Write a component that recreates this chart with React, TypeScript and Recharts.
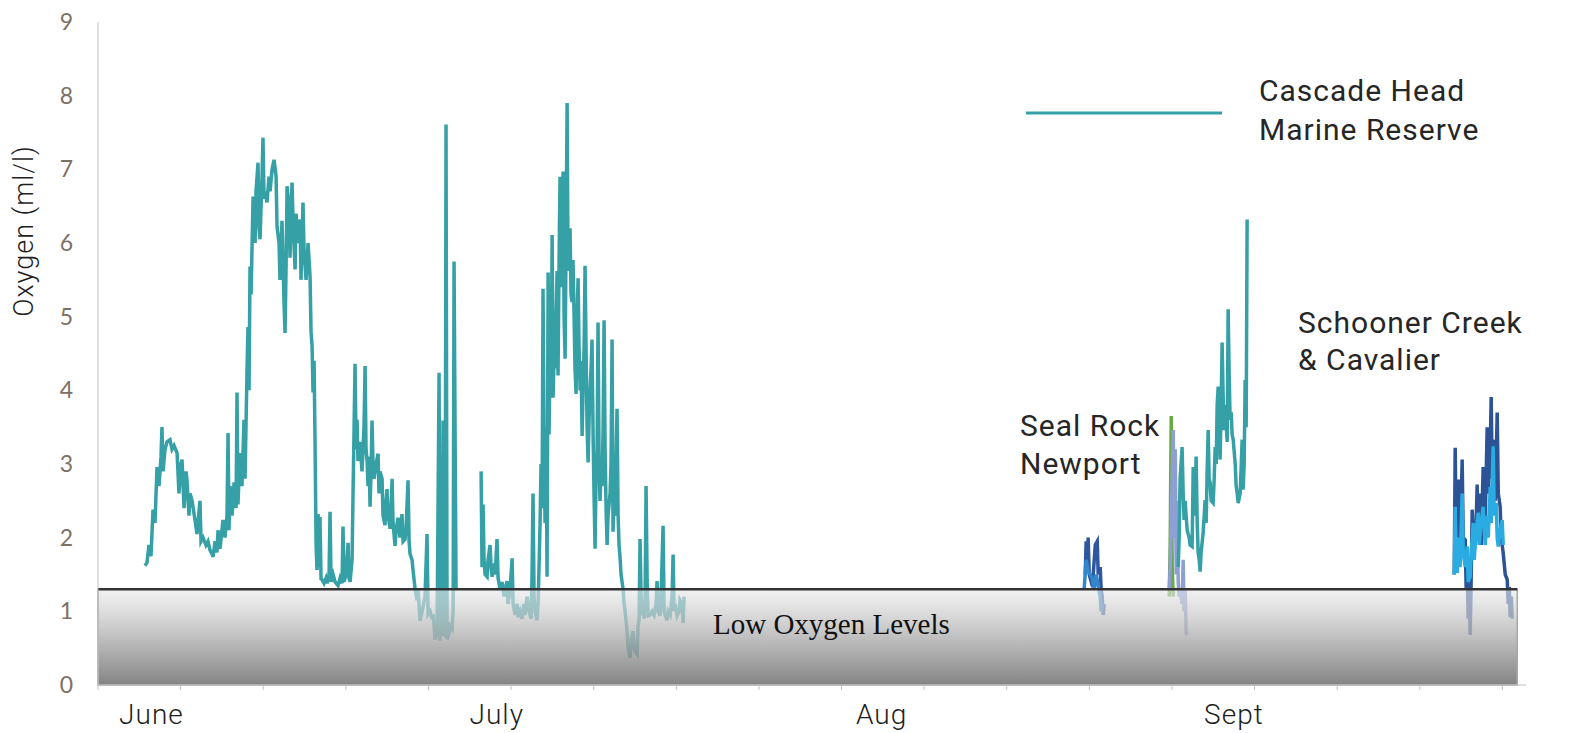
import React from 'react';
import { LineChart, Line, XAxis, YAxis, ReferenceArea, ReferenceLine } from 'recharts';

// x values are days since June 1, y values are dissolved oxygen in ml/l
const weekTicks = [0, 7, 14, 21, 28, 35, 42, 49, 56, 63, 70, 77, 84, 91, 98, 105, 112, 119];
const o2Ticks = [0, 1, 2, 3, 4, 5, 6, 7, 8, 9];
const monthNames = ['June', 'July', 'Aug', 'Sept'];
const monthDays = [4.53, 33.79, 66.4, 96.25];
const lowO2Limit = 1.3;
const bandEndDay = 120.26;

// Cascade Head Marine Reserve
const juneDay = [3.98, 4.15, 4.32, 4.49, 4.66, 4.83, 5.0, 5.17, 5.34, 5.42, 5.51, 5.68, 5.85, 6.1, 6.27, 6.44, 6.7, 6.86, 7.03, 7.12, 7.29, 7.46, 7.54, 7.71, 7.8, 7.97, 8.22, 8.39, 8.64, 8.73, 8.9, 9.15, 9.32, 9.49, 9.66, 9.75, 9.92, 10.08, 10.17, 10.34, 10.59, 10.76, 10.93, 11.02, 11.1, 11.19, 11.36, 11.53, 11.7, 11.78, 11.86, 12.03, 12.2, 12.37, 12.46, 12.63, 12.71, 12.8, 12.88, 12.97, 13.14, 13.31, 13.39, 13.56, 13.64, 13.73, 13.9, 13.98, 14.07, 14.15, 14.32, 14.49, 14.58, 14.75, 14.92, 15.09, 15.17, 15.34, 15.42, 15.59, 15.76, 15.85, 15.93, 16.02, 16.19, 16.27, 16.44, 16.53, 16.7, 16.78, 16.95, 17.12, 17.2, 17.37, 17.46, 17.63, 17.8, 17.97, 18.05, 18.14, 18.22, 18.31, 18.39, 18.48, 18.56, 18.65, 18.73, 18.81, 18.9, 18.98, 19.15, 19.32, 19.41, 19.58, 19.66, 19.75, 19.92, 20.09, 20.34, 20.51, 20.68, 20.76, 20.85, 21.02, 21.19, 21.27, 21.36, 21.53, 21.61, 21.7, 21.78, 21.87, 21.95, 22.03, 22.2, 22.37, 22.54, 22.63, 22.71, 22.8, 22.88, 22.97, 23.05, 23.14, 23.22, 23.31, 23.39, 23.56, 23.73, 23.81, 23.9, 24.07, 24.15, 24.32, 24.41, 24.49, 24.58, 24.75, 24.83, 24.92, 25.0, 25.17, 25.26, 25.42, 25.59, 25.76, 25.85, 26.02, 26.1, 26.27, 26.36, 26.44, 26.61, 26.7, 26.87, 27.03, 27.12, 27.29, 27.46, 27.54, 27.71, 27.88, 27.97, 28.14, 28.31, 28.39, 28.48, 28.56, 28.73, 28.9, 28.98, 29.07, 29.15, 29.24, 29.32, 29.41, 29.49, 29.58, 29.75, 29.83, 30.0, 30.09, 30.17, 30.26, 30.34];
const juneO2 = [1.62, 1.66, 1.9, 1.75, 2.38, 2.2, 2.96, 2.7, 3.1, 3.5, 2.9, 3.2, 3.3, 3.33, 3.2, 3.25, 3.15, 2.6, 3.0, 3.06, 2.4, 2.9, 2.78, 2.3, 2.6, 2.5, 2.24, 2.05, 2.5, 1.95, 2.0, 1.9, 1.95, 1.83, 1.78, 1.74, 1.95, 1.8, 2.1, 1.85, 2.24, 2.0, 2.3, 3.42, 2.1, 2.7, 2.3, 2.75, 2.4, 3.97, 2.45, 3.15, 2.7, 3.6, 2.8, 4.3, 4.86, 4.0, 5.68, 5.3, 6.63, 6.0, 6.7, 7.09, 6.2, 6.05, 6.9, 7.43, 6.6, 6.7, 6.55, 6.9, 6.7, 7.0, 7.13, 6.9, 6.22, 6.0, 5.5, 6.3, 5.2, 4.78, 5.6, 6.77, 6.5, 5.8, 6.82, 6.3, 5.64, 6.4, 6.0, 6.32, 5.5, 6.55, 5.9, 5.5, 6.0, 5.54, 4.8, 4.6, 3.97, 4.4, 3.29, 1.89, 1.56, 2.32, 1.6, 2.28, 1.44, 1.43, 1.38, 1.45, 1.38, 1.5, 2.35, 1.4, 1.5, 1.4, 1.35, 1.45, 1.38, 2.15, 1.4, 1.5, 1.93, 1.45, 1.4, 1.7, 2.6, 3.5, 4.36, 3.2, 3.6, 3.04, 3.3, 2.9, 3.5, 4.33, 3.2, 3.04, 2.7, 3.1, 2.42, 2.9, 3.59, 2.95, 2.8, 3.0, 3.14, 2.6, 2.9, 2.8, 2.3, 2.17, 2.5, 2.66, 2.3, 2.12, 2.4, 2.8, 2.2, 1.89, 2.1, 2.27, 2.0, 2.32, 1.95, 1.98, 2.1, 2.78, 1.95, 1.78, 1.7, 1.55, 1.3, 1.15, 1.3, 0.87, 1.0, 1.06, 1.2, 2.05, 0.96, 1.0, 0.9, 0.96, 0.8, 0.62, 0.7, 4.24, 0.6, 1.3, 0.67, 3.59, 1.0, 0.65, 7.61, 0.62, 0.7, 0.8, 0.76, 1.0, 5.75, 3.34, 1.3];

const julyDay = [32.46, 32.54, 32.63, 32.71, 32.8, 32.97, 33.05, 33.22, 33.31, 33.39, 33.56, 33.65, 33.81, 33.9, 34.07, 34.24, 34.41, 34.49, 34.66, 34.75, 34.92, 35.09, 35.17, 35.34, 35.51, 35.59, 35.76, 35.93, 36.1, 36.19, 36.36, 36.53, 36.7, 36.78, 36.86, 36.95, 37.03, 37.2, 37.29, 37.37, 37.46, 37.54, 37.63, 37.71, 37.8, 37.88, 37.97, 38.05, 38.14, 38.22, 38.31, 38.39, 38.48, 38.56, 38.65, 38.73, 38.81, 38.9, 38.98, 39.07, 39.15, 39.24, 39.32, 39.41, 39.49, 39.58, 39.66, 39.75, 39.83, 39.92, 40.0, 40.08, 40.17, 40.25, 40.34, 40.42, 40.51, 40.59, 40.68, 40.76, 40.85, 40.93, 41.02, 41.1, 41.19, 41.27, 41.36, 41.44, 41.53, 41.61, 41.69, 41.78, 41.86, 41.95, 42.03, 42.12, 42.2, 42.29, 42.37, 42.46, 42.54, 42.63, 42.71, 42.8, 42.88, 42.97, 43.05, 43.14, 43.22, 43.39, 43.47, 43.56, 43.64, 43.73, 43.81, 43.98, 44.07, 44.15, 44.24, 44.32, 44.49, 44.58, 44.66, 44.83, 44.92, 45.08, 45.17, 45.34, 45.42, 45.51, 45.68, 45.76, 45.85, 45.93, 46.02, 46.1, 46.19, 46.27, 46.36, 46.44, 46.53, 46.61, 46.78, 46.95, 47.12, 47.29, 47.37, 47.46, 47.63, 47.71, 47.88, 47.97, 48.05, 48.22, 48.31, 48.48, 48.64, 48.73, 48.81, 48.9, 49.07, 49.24, 49.32, 49.49, 49.58, 49.66];
const julyO2 = [2.9, 1.6, 2.45, 1.7, 1.5, 1.47, 1.7, 1.9, 1.6, 1.47, 1.65, 1.5, 1.98, 1.45, 1.3, 1.4, 1.2, 1.3, 1.41, 1.1, 1.3, 1.72, 1.1, 0.95, 1.1, 0.92, 1.0, 0.9, 1.1, 0.95, 1.2, 1.0, 0.9, 1.5, 2.6, 1.2, 1.0, 0.88, 1.1, 1.6, 2.21, 3.0, 2.4, 5.38, 3.2, 2.2, 3.5, 1.47, 5.6, 3.4, 4.6, 3.9, 6.11, 3.9, 4.5, 4.3, 5.0, 5.62, 4.2, 5.8, 6.9, 5.4, 6.4, 6.97, 5.0, 4.43, 6.0, 7.9, 5.62, 6.0, 6.2, 5.3, 5.2, 5.77, 5.0, 4.3, 3.95, 5.0, 5.52, 4.6, 4.0, 4.4, 3.38, 4.0, 4.6, 5.69, 4.5, 3.5, 3.02, 3.6, 4.0, 4.3, 4.69, 3.4, 2.6, 1.85, 2.8, 3.2, 4.92, 3.0, 2.5, 3.0, 2.7, 3.5, 4.95, 3.2, 2.4, 1.9, 2.3, 2.6, 3.0, 4.69, 2.08, 2.5, 2.3, 3.75, 2.3, 1.9, 1.72, 1.5, 1.3, 1.1, 1.0, 0.73, 0.5, 0.37, 0.6, 0.73, 0.5, 0.45, 0.42, 0.8, 0.9, 1.98, 1.2, 0.95, 1.1, 0.9, 1.2, 2.7, 1.4, 0.94, 0.95, 1.0, 0.95, 1.1, 1.41, 1.0, 0.94, 1.2, 2.16, 1.0, 0.95, 0.88, 1.0, 0.95, 1.2, 1.77, 1.0, 1.1, 0.94, 1.0, 1.15, 1.1, 0.84, 1.2];

const septDay = [91.53, 91.61, 91.69, 91.86, 91.95, 92.03, 92.12, 92.2, 92.29, 92.46, 92.54, 92.71, 92.8, 92.88, 92.97, 93.05, 93.14, 93.22, 93.31, 93.39, 93.47, 93.64, 93.73, 93.81, 93.9, 93.98, 94.07, 94.15, 94.24, 94.32, 94.49, 94.58, 94.66, 94.75, 94.83, 94.92, 95.0, 95.08, 95.17, 95.25, 95.34, 95.42, 95.51, 95.68, 95.76, 95.85, 95.93, 96.02, 96.1, 96.19, 96.36, 96.44, 96.53, 96.61, 96.78, 96.95, 97.03, 97.12, 97.2, 97.29, 97.37];
const septO2 = [1.6, 2.0, 2.8, 3.23, 2.6, 2.24, 2.5, 2.3, 2.1, 2.0, 1.9, 1.88, 2.96, 2.3, 2.6, 3.1, 2.2, 1.79, 1.7, 1.54, 1.8, 2.06, 2.3, 2.51, 2.2, 2.9, 3.46, 2.8, 2.74, 2.5, 2.47, 2.8, 3.23, 3.0, 3.8, 4.05, 3.5, 3.06, 3.8, 4.65, 3.9, 3.46, 3.8, 3.3, 5.1, 4.2, 3.6, 3.7, 3.4, 3.33, 3.0, 2.7, 2.6, 2.47, 2.6, 3.33, 2.65, 3.0, 4.14, 3.5, 6.32];

// Seal Rock & Newport
const sealDay = [83.65, 83.73, 83.82, 83.9, 83.99, 84.16, 84.33, 84.5, 84.67, 84.75, 84.92, 85.0, 85.09, 85.17, 85.26];
const sealO2 = [1.5, 1.95, 1.6, 2.0, 1.5, 1.4, 1.5, 1.9, 1.95, 1.5, 1.6, 1.3, 1.2, 0.95, 1.1];
const newportDay = [83.56, 83.73, 83.9, 84.07, 84.24, 84.41, 84.58, 84.75, 84.92, 85.0, 85.09];
const newportO2 = [1.3, 1.7, 1.55, 1.5, 1.45, 1.3, 1.5, 1.35, 1.2, 1.0, 1.1];
const greenDay = [90.77, 90.85, 90.94, 91.02, 91.11];
const greenO2 = [1.2, 1.9, 3.65, 1.6, 1.2];
const lavenderDay = [90.77, 90.85, 91.02, 91.11, 91.19, 91.28, 91.36, 91.44, 91.53, 91.61, 91.69, 91.86, 91.95, 92.03, 92.12, 92.2, 92.29];
const lavenderO2 = [1.3, 1.6, 2.8, 3.46, 2.0, 3.2, 1.5, 2.5, 1.4, 1.2, 1.3, 1.1, 1.7, 1.0, 1.3, 0.7, 0.68];

// Schooner Creek & Cavalier
const schoonerDay = [114.92, 115.0, 115.08, 115.17, 115.26, 115.42, 115.59, 115.68, 115.85, 115.93, 116.02, 116.1, 116.19, 116.27, 116.36, 116.44, 116.61, 116.78, 116.86, 116.95, 117.12, 117.2, 117.37, 117.54, 117.71, 117.8, 117.97, 118.05, 118.14, 118.22, 118.39, 118.56, 118.65, 118.81, 118.9, 119.07, 119.24, 119.41, 119.49, 119.58, 119.66, 119.75, 119.83];
const schoonerO2 = [1.5, 3.22, 2.0, 2.5, 2.79, 1.8, 3.06, 2.0, 1.97, 1.3, 1.6, 0.9, 1.2, 0.68, 1.5, 2.38, 1.8, 2.2, 2.72, 2.0, 2.6, 1.9, 2.96, 2.2, 3.5, 2.6, 3.2, 3.91, 2.8, 3.33, 2.5, 3.7, 2.6, 2.42, 2.0, 1.79, 1.5, 1.43, 1.1, 1.33, 0.92, 1.2, 0.9];
const cavalierDay = [114.92, 115.0, 115.08, 115.17, 115.26, 115.42, 115.59, 115.68, 115.85, 116.02, 116.1, 116.27, 116.36, 116.53, 116.61, 116.78, 116.95, 117.03, 117.2, 117.37, 117.54, 117.71, 117.8, 117.97, 118.05, 118.22, 118.31, 118.47, 118.56, 118.65, 118.81, 118.98, 119.07];
const cavalierO2 = [1.5, 2.42, 1.6, 1.52, 2.0, 1.6, 2.6, 1.8, 1.6, 1.88, 1.4, 1.47, 1.8, 2.2, 1.7, 2.1, 2.34, 1.9, 2.2, 2.42, 1.9, 2.3, 2.0, 2.69, 2.2, 3.24, 2.3, 2.47, 2.0, 1.88, 2.1, 2.24, 1.9];

const toPoints = (days: number[], values: number[]) => days.map((d, i) => ({ d, o2: values[i] }));

const series = [
  { key: 'june', data: toPoints(juneDay, juneO2), color: '#35a1a6' },
  { key: 'july', data: toPoints(julyDay, julyO2), color: '#35a1a6' },
  { key: 'seal', data: toPoints(sealDay, sealO2), color: '#2d58a0' },
  { key: 'newport', data: toPoints(newportDay, newportO2), color: '#3386cb' },
  { key: 'green', data: toPoints(greenDay, greenO2), color: '#6aaa45' },
  { key: 'lavender', data: toPoints(lavenderDay, lavenderO2), color: '#8e9fd3' },
  { key: 'sept', data: toPoints(septDay, septO2), color: '#35a1a6' },
  { key: 'schooner', data: toPoints(schoonerDay, schoonerO2), color: '#2c5396' },
  { key: 'cavalier', data: toPoints(cavalierDay, cavalierO2), color: '#2aabe2' },
];

const labelFont = 'Roboto, "DejaVu Sans", sans-serif';

const WeekTick = () => <g />;

const MonthTick = (props: any) => {
  const { x, y, payload } = props;
  return (
    <text
      x={x}
      y={y}
      dy={25}
      textAnchor="middle"
      fontFamily={labelFont}
      fontSize={28}
      fontWeight={300}
      letterSpacing={1}
      fill="#1e1e1e"
    >
      {monthNames[monthDays.indexOf(payload.value)]}
    </text>
  );
};

const App: React.FC = () => {
  return (
    <div style={{ position: 'relative', width: 1575, height: 725 }}>
      <LineChart width={1575} height={725} margin={{ top: 14, right: 57, left: 0, bottom: 0 }}>
        <defs>
          <linearGradient id="lowBand" x1="0" y1="0" x2="0" y2="1">
            <stop offset="0%" stopColor="#e8e8ea" stopOpacity={0.6} />
            <stop offset="50%" stopColor="#b0b0b0" stopOpacity={0.8} />
            <stop offset="100%" stopColor="#6e6e6e" stopOpacity={0.85} />
          </linearGradient>
        </defs>
        <XAxis
          dataKey="d"
          type="number"
          domain={[0, 121]}
          ticks={weekTicks}
          interval={0}
          allowDataOverflow
          height={8}
          tick={<WeekTick />}
          tickSize={5}
          axisLine={{ stroke: '#bfbfbf' }}
          tickLine={{ stroke: '#bfbfbf' }}
        />
        <XAxis
          xAxisId="month"
          dataKey="d"
          type="number"
          domain={[0, 121]}
          ticks={monthDays}
          interval={0}
          allowDataOverflow
          height={40}
          axisLine={false}
          tickLine={false}
          tickMargin={0}
          tick={<MonthTick />}
        />
        <YAxis
          type="number"
          domain={[0, 9]}
          ticks={o2Ticks}
          width={90}
          axisLine={{ stroke: '#bfbfbf' }}
          tickLine={false}
          tickMargin={19}
          tick={{ fontFamily: 'Lato, "Open Sans", sans-serif', fontSize: 23, fill: '#7d7064' }}
        />
        {series.map((s) => (
          <Line
            key={s.key}
            data={s.data}
            dataKey="o2"
            type="linear"
            stroke={s.color}
            strokeWidth={3.5}
            dot={false}
            activeDot={false}
            isAnimationActive={false}
          />
        ))}
        <ReferenceArea
          x1={0}
          x2={bandEndDay}
          y1={0}
          y2={lowO2Limit}
          fill="url(#lowBand)"
          fillOpacity={1}
          stroke="#a8a8a8"
          strokeWidth={1.5}
          zIndex={450}
        />
        <ReferenceLine
          segment={[{ x: 0, y: lowO2Limit }, { x: bandEndDay, y: lowO2Limit }]}
          stroke="#333333"
          strokeWidth={2.5}
          zIndex={460}
        />
      </LineChart>
      <svg
        width={1575}
        height={725}
        style={{ position: 'absolute', left: 0, top: 0, pointerEvents: 'none', overflow: 'visible' }}
      >
        <text
          transform="translate(16,223) rotate(-90)"
          textAnchor="middle"
          dominantBaseline="central"
          fontFamily={labelFont}
          fontWeight={300}
          fontSize={27}
          letterSpacing={1}
          fill="#1e1e1e"
        >
          Oxygen (ml/l)
        </text>
        <line x1={1018} x2={1214} y1={105} y2={105} stroke="#35a1a6" strokeWidth={3} />
        <g fontFamily={labelFont} fontSize={30} fill="#262626" letterSpacing={1}>
          <text x={1251} y={93}>Cascade Head</text>
          <text x={1251} y={132}>Marine Reserve</text>
          <text x={1012} y={428}>Seal Rock</text>
          <text x={1012} y={466}>Newport</text>
          <text x={1290} y={325}>Schooner Creek</text>
          <text x={1290} y={362}>&amp; Cavalier</text>
        </g>
        <text x={705} y={626} fontFamily='"Liberation Serif", serif' fontSize={29} fill="#111111">
          Low Oxygen Levels
        </text>
      </svg>
    </div>
  );
};

export default App;
